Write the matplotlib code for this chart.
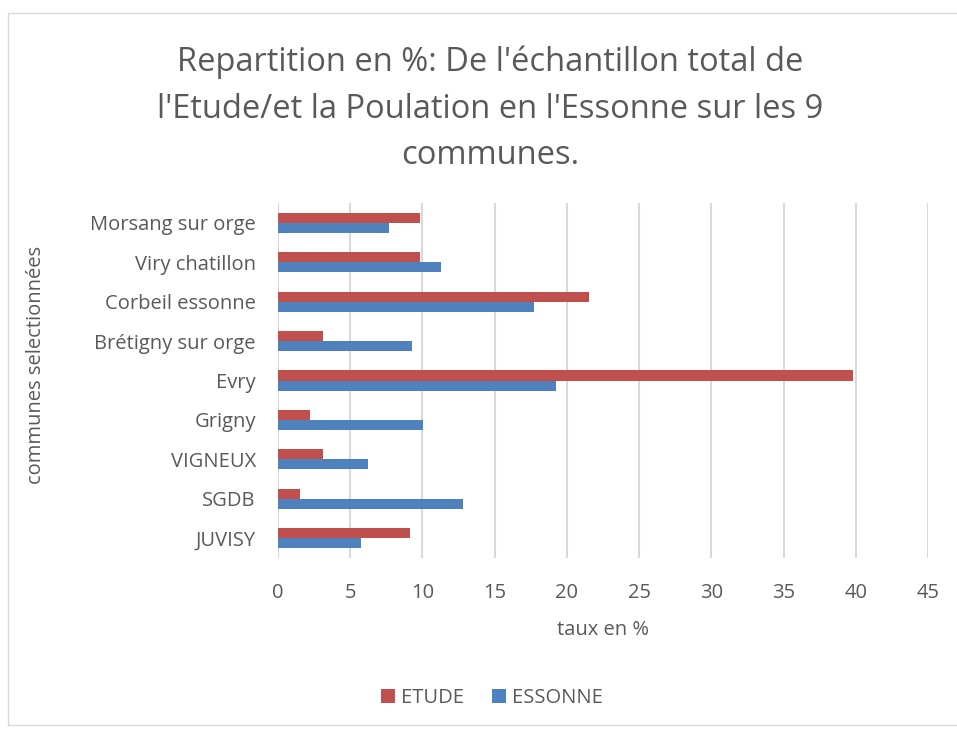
import numpy as np
import matplotlib.pyplot as plt
from matplotlib.patches import Rectangle

communes = ['JUVISY', 'SGDB', 'VIGNEUX', 'Grigny', 'Evry',
            'Brétigny sur orge', 'Corbeil essonne', 'Viry chatillon', 'Morsang sur orge']
etude = [9.15, 1.55, 3.1, 2.2, 39.8, 3.1, 21.5, 9.8, 9.8]
essonne = [5.75, 12.8, 6.2, 10.05, 19.25, 9.3, 17.7, 11.25, 7.65]
xticks = [0, 5, 10, 15, 20, 25, 30, 35, 40, 45]

plt.rcParams['font.family'] = ['Open Sans', 'DejaVu Sans']
txt = '#595959'
fs = 14.5

fig = plt.figure(figsize=(9.57, 7.31), dpi=100)
ax = fig.add_axes([278 / 957, 1 - 558 / 731, 650 / 957, 355 / 731])

# chart border
fig.patches.append(Rectangle((8 / 957, 6 / 731), 1.2, 1 - 19 / 731, transform=fig.transFigure,
                             fill=False, edgecolor='#d9d9d9', linewidth=1))

y = np.arange(len(communes))
h = 0.255
ax.barh(y + h / 2, etude, height=h, color='#C0504D', label='ETUDE', zorder=3)
ax.barh(y - h / 2, essonne, height=h, color='#4F81BD', label='ESSONNE', zorder=3)

ax.set_xlim(0, 45)
ax.set_ylim(-0.5, len(communes) - 0.5)
ax.set_xticks(xticks)
ax.set_yticks(y)
ax.set_yticklabels(communes)
ax.grid(axis='x', color='#d9d9d9', linewidth=1.5, zorder=0)
for s in ax.spines.values():
    s.set_visible(False)
ax.tick_params(length=0, labelsize=fs, colors=txt)
ax.tick_params(axis='y', pad=16)
ax.tick_params(axis='x', pad=18)

ax.set_xlabel('taux en %', fontsize=fs, color=txt)
ax.xaxis.set_label_coords(0.5, (558 - 620) / 355)
ax.set_ylabel('communes selectionnées', fontsize=fs, color=txt, va='center')
ax.yaxis.set_label_coords((36 - 278) / 650, (558 - 365) / 355)

fig.text(490 / 957, 1 - 109 / 731,
         "Repartition en %: De l'échantillon total de\nl'Etude/et la Poulation en l'Essonne sur les 9\ncommunes.",
         ha='center', va='center', fontsize=23.5, color=txt, linespacing=1.55)

fig.legend(loc='center', bbox_to_anchor=(492 / 957, 1 - 698 / 731), ncol=2, frameon=False,
           fontsize=fs, labelcolor=txt, handlelength=0.7, handleheight=0.7,
           handletextpad=0.3, columnspacing=1.4)

fig.savefig('out.png', dpi=100)
